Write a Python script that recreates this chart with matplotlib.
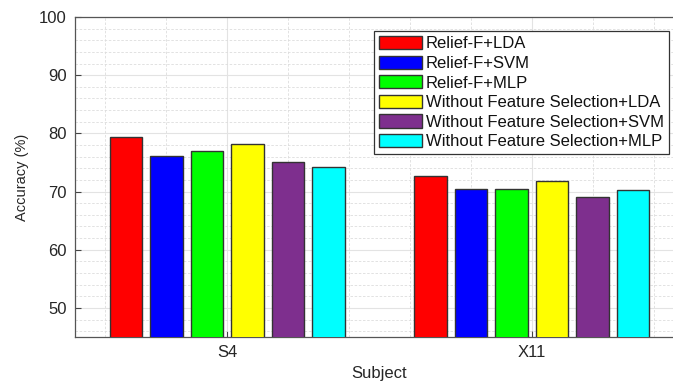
import matplotlib
matplotlib.use("Agg")
import matplotlib.pyplot as plt
import numpy as np
from matplotlib.ticker import MultipleLocator

subjects = ["S4", "X11"]
methods = ["Relief-F+LDA", "Relief-F+SVM", "Relief-F+MLP",
           "Without Feature Selection+LDA", "Without Feature Selection+SVM",
           "Without Feature Selection+MLP"]
values = [
    [79.4, 72.7],
    [76.1, 70.5],
    [76.9, 70.5],
    [78.2, 71.8],
    [75.1, 69.1],
    [74.2, 70.3],
]
colors = ["#FF0000", "#0000FF", "#00FF00", "#FFFF00", "#7E2F8E", "#00FFFF"]

plt.rcParams['font.family'] = ['Liberation Sans', 'DejaVu Sans']

fig = plt.figure(figsize=(6.73, 3.82), dpi=100)
ax = fig.add_axes([75/673, 45/382, (684-75)/673, 320/382])

x = np.arange(1, len(subjects) + 1)
step = 0.133
width = 0.106
for i, (m, v, c) in enumerate(zip(methods, values, colors)):
    ax.bar(x + (i - 2.5) * step, v, width, color=c, edgecolor='#333333',
           linewidth=1.0, label=m, zorder=3)

ax.set_xlim(0.5, 2.5)
ax.set_ylim(45, 100)
ax.set_xticks(x)
ax.set_xticklabels(subjects)
ax.set_yticks([50, 60, 70, 80, 90, 100])
ax.xaxis.set_minor_locator(MultipleLocator(0.2))
ax.yaxis.set_minor_locator(MultipleLocator(2))
ax.grid(True, which='major', color='#e3e3e3', linewidth=0.8, zorder=0)
ax.grid(True, which='minor', color='#dddddd', linewidth=0.6, linestyle=(0, (3, 2)), zorder=0)
ax.set_axisbelow(True)
ax.tick_params(which='minor', length=0)
ax.tick_params(which='major', direction='in', length=4, width=0.8, colors='#444444',
               labelsize=12, labelcolor='#262626', pad=6)
for s in ax.spines.values():
    s.set_color('#555555')
    s.set_linewidth(0.9)

ax.set_ylabel("Accuracy (%)", fontsize=10.5, color='#262626', labelpad=7)
ax.set_xlabel("Subject", fontsize=12, color='#262626', labelpad=4)

leg = ax.legend(loc='upper right', bbox_to_anchor=(669/673, 1 - 31/382),
                bbox_transform=fig.transFigure, fontsize=12,
                frameon=True, fancybox=False, edgecolor='#333333', framealpha=1,
                handlelength=2.6, handleheight=0.85, handletextpad=0.25,
                labelspacing=0.25, borderpad=0.3, borderaxespad=0)
leg.get_frame().set_linewidth(0.9)
for t in leg.get_texts():
    t.set_color('#111111')

fig.savefig("out.png", dpi=100)
